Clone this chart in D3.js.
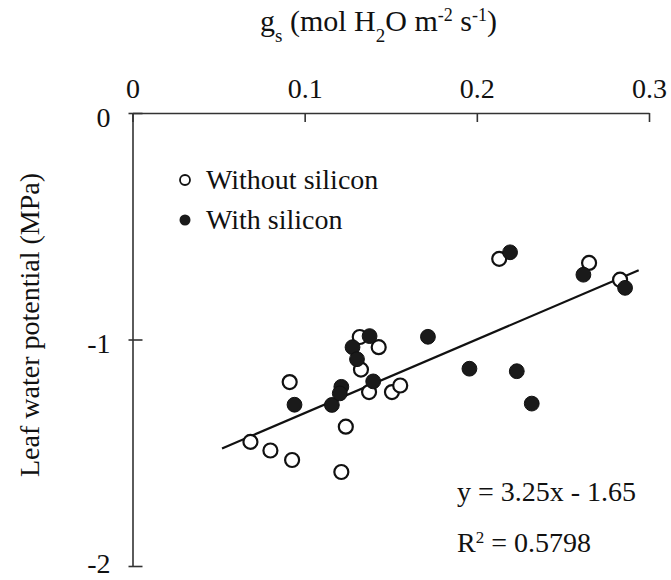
<!DOCTYPE html>
<html>
<head>
<meta charset="utf-8">
<script src="https://cdn.jsdelivr.net/npm/d3@7/dist/d3.min.js"></script>
<style>
  html, body { margin: 0; padding: 0; background: #fff; }
  svg text { font-family: "Liberation Serif", "Times New Roman", serif; fill: #111; }
</style>
</head>
<body>
<svg id="chart" width="671" height="580"></svg>
<script>
// Stomatal conductance (gs) vs leaf water potential, two treatments
const withoutSiliconGs = [0.0685, 0.0801, 0.0927, 0.0913, 0.1213, 0.1239, 0.1320, 0.1430, 0.1327, 0.1374, 0.1507, 0.1555, 0.2130, 0.2652, 0.2832];
const withoutSiliconPsi = [-1.452, -1.490, -1.532, -1.188, -1.585, -1.385, -0.989, -1.034, -1.133, -1.232, -1.232, -1.203, -0.644, -0.662, -0.736];

const withSiliconGs = [0.0941, 0.1158, 0.1213, 0.1204, 0.1278, 0.1304, 0.1377, 0.1398, 0.1716, 0.1957, 0.2193, 0.2232, 0.2319, 0.2619, 0.2861];
const withSiliconPsi = [-1.288, -1.289, -1.209, -1.238, -1.034, -1.087, -0.985, -1.185, -0.988, -1.129, -0.615, -1.140, -1.283, -0.714, -0.772];

// Fitted regression: y = 3.25x - 1.65, drawn over the data range
const fitSlope = 3.25;
const fitIntercept = -1.65;
const fitRange = [0.052, 0.294];

const xTicks = [0, 0.1, 0.2, 0.3];
const yTicks = [0, -1, -2];
const legendLabels = ["Without silicon", "With silicon"];

const svg = d3.select("#chart");

const x = d3.scaleLinear().domain([0, 0.3]).range([132.5, 649]);
const y = d3.scaleLinear().domain([0, -2]).range([113, 566]);

const axisColor = "#333";

// Top (x) axis: line plus inward ticks
const xAxis = d3.axisTop(x)
  .tickValues(xTicks)
  .tickSizeInner(-9)
  .tickSizeOuter(0)
  .tickFormat(d => d === 0 ? "0" : d3.format(".1f")(d));
const gx = svg.append("g").attr("transform", `translate(0,${y(0)})`).call(xAxis);
gx.select(".domain").attr("stroke", axisColor).attr("stroke-width", 1.6);
gx.selectAll(".tick line").attr("stroke", axisColor).attr("stroke-width", 1.6);
gx.selectAll(".tick text")
  .attr("y", -15)
  .attr("dy", 0)
  .style("font-size", "28px")
  .attr("fill", "#111");

// Left (y) axis
const yAxis = d3.axisLeft(y)
  .tickValues(yTicks)
  .tickSizeInner(4)
  .tickSizeOuter(0)
  .tickFormat(d3.format("d"));
const gy = svg.append("g").attr("transform", `translate(${x(0)},0)`).call(yAxis);
gy.select(".domain").attr("stroke", axisColor).attr("stroke-width", 1.6);
gy.selectAll(".tick line")
  .attr("x1", -4).attr("x2", 10)
  .attr("stroke", axisColor).attr("stroke-width", 1.6);
gy.selectAll(".tick text")
  .attr("x", -22)
  .attr("dy", 0)
  .attr("y", d => Math.min(13, 572 - y(d)))
  .style("font-size", "28px")
  .attr("fill", "#111")
  .text(d => d === 0 ? "0" : "-" + Math.abs(d));

// Axis titles
const title = svg.append("text")
  .attr("x", 260).attr("y", 31)
  .style("font-size", "30px");
title.append("tspan").text("g");
title.append("tspan").attr("baseline-shift", "sub").style("font-size", "19px").text("s");
title.append("tspan").text(" (mol H");
title.append("tspan").attr("baseline-shift", "sub").style("font-size", "19px").text("2");
title.append("tspan").text("O m");
title.append("tspan").attr("baseline-shift", "super").style("font-size", "18px").text("-2");
title.append("tspan").text(" s");
title.append("tspan").attr("baseline-shift", "super").style("font-size", "18px").text("-1");
title.append("tspan").text(")");

svg.append("text")
  .attr("transform", "translate(39,325) rotate(-90)")
  .attr("text-anchor", "middle")
  .style("font-size", "28px")
  .text("Leaf water potential (MPa)");

// Regression line
svg.append("line")
  .attr("x1", x(fitRange[0])).attr("y1", y(fitSlope * fitRange[0] + fitIntercept))
  .attr("x2", x(fitRange[1])).attr("y2", y(fitSlope * fitRange[1] + fitIntercept))
  .attr("stroke", "#111").attr("stroke-width", 2.2);

// Points
const openPts = withoutSiliconGs.map((g, i) => ({ g, psi: withoutSiliconPsi[i] }));
const filledPts = withSiliconGs.map((g, i) => ({ g, psi: withSiliconPsi[i] }));

svg.append("g").selectAll("circle").data(openPts).join("circle")
  .attr("cx", d => x(d.g)).attr("cy", d => y(d.psi)).attr("r", 7)
  .attr("fill", "#fff").attr("stroke", "#111").attr("stroke-width", 2.2);

svg.append("g").selectAll("circle").data(filledPts).join("circle")
  .attr("cx", d => x(d.g)).attr("cy", d => y(d.psi)).attr("r", 7.4)
  .attr("fill", "#1a1a1a").attr("stroke", "#111").attr("stroke-width", 1);

// Legend
const legend = svg.append("g");
legend.append("circle").attr("cx", 185).attr("cy", 180).attr("r", 5)
  .attr("fill", "#fff").attr("stroke", "#111").attr("stroke-width", 1.8);
legend.append("text").attr("x", 206).attr("y", 189).style("font-size", "28px").text(legendLabels[0]);
legend.append("circle").attr("cx", 185).attr("cy", 220).attr("r", 5.5)
  .attr("fill", "#1a1a1a");
legend.append("text").attr("x", 206).attr("y", 229).style("font-size", "28px").text(legendLabels[1]);

// Regression equation
svg.append("text").attr("x", 457).attr("y", 501).style("font-size", "28px")
  .text(`y = ${fitSlope}x - ${Math.abs(fitIntercept)}`);
const r2 = svg.append("text").attr("x", 457).attr("y", 552).style("font-size", "28px");
r2.append("tspan").text("R");
r2.append("tspan").attr("baseline-shift", "super").style("font-size", "17px").text("2");
r2.append("tspan").text(" = 0.5798");
</script>
</body>
</html>
